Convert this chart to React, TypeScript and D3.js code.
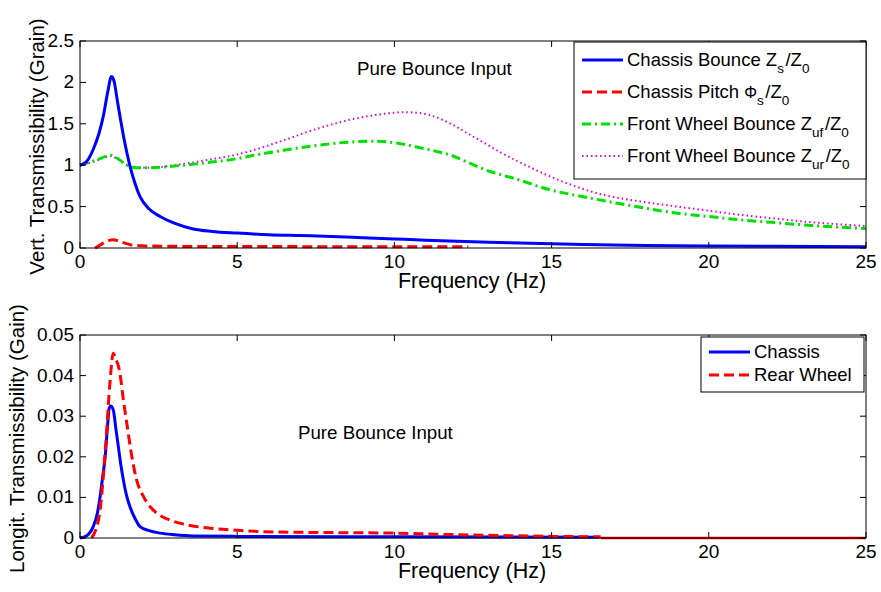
import React from "react";
import * as d3 from "d3";

// ---------- data ----------
const xTicks = [0, 5, 10, 15, 20, 25];
const topYTicks = [0, 0.5, 1, 1.5, 2, 2.5];
const topYTickLabels = ["0", "0.5", "1", "1.5", "2", "2.5"];
const botYTicks = [0, 0.01, 0.02, 0.03, 0.04, 0.05];
const botYTickLabels = ["0", "0.01", "0.02", "0.03", "0.04", "0.05"];

// Top: Chassis Bounce Zs/Z0
const chassisBounceF = [0, 0.2, 0.42, 0.6, 0.74, 0.88, 1.0, 1.08, 1.2, 1.4, 1.59, 1.75, 1.91, 2.2, 2.55, 3, 3.6, 4.2, 5, 6, 7, 8, 9, 10, 11, 12, 13, 14, 15, 16, 17, 18, 20, 22, 25];
const chassisBounceV = [1.0, 1.04, 1.19, 1.38, 1.59, 1.88, 2.07, 2.02, 1.75, 1.32, 0.99, 0.78, 0.62, 0.47, 0.38, 0.3, 0.23, 0.2, 0.18, 0.16, 0.15, 0.14, 0.125, 0.11, 0.095, 0.082, 0.07, 0.06, 0.05, 0.042, 0.035, 0.03, 0.024, 0.02, 0.016];

// Top: Chassis Pitch Phi_s/Z0
const chassisPitchF = [0.48, 0.7, 0.9, 1.06, 1.25, 1.6, 2.1, 3, 5, 8, 10, 12.35];
const chassisPitchV = [0, 0.05, 0.09, 0.1, 0.08, 0.04, 0.025, 0.02, 0.018, 0.016, 0.015, 0.014];

// Top: Front Wheel Bounce Zuf/Z0
const frontUfF = [0, 0.5, 0.85, 1.0, 1.2, 1.5, 1.8, 2.2, 3, 4, 5, 5.41, 6.47, 7.54, 8.6, 9.2, 9.66, 10.2, 10.7, 11.3, 11.8, 12.3, 12.85, 13.9, 14.97, 16, 17.1, 18, 19, 20, 21, 22, 23, 24, 25];
const frontUfV = [1.0, 1.06, 1.11, 1.12, 1.08, 1.0, 0.97, 0.97, 0.99, 1.03, 1.08, 1.11, 1.18, 1.24, 1.28, 1.29, 1.285, 1.26, 1.22, 1.17, 1.12, 1.04, 0.95, 0.83, 0.7, 0.62, 0.54, 0.48, 0.42, 0.38, 0.34, 0.31, 0.28, 0.255, 0.235];

// Top: Front Wheel Bounce Zur/Z0
const frontUrF = [0, 0.5, 0.85, 1.0, 1.2, 1.5, 1.8, 2.2, 3, 4, 5, 5.41, 6.47, 7.54, 8.6, 9.66, 10.3, 10.8, 11.25, 11.8, 12.3, 12.85, 13.4, 14.4, 15.5, 16.56, 18.05, 19, 20, 21, 22, 23, 24, 25];
const frontUrV = [1.0, 1.05, 1.1, 1.11, 1.07, 1.0, 0.97, 0.97, 1.0, 1.06, 1.13, 1.17, 1.3, 1.44, 1.55, 1.62, 1.64, 1.63, 1.59, 1.5, 1.39, 1.27, 1.15, 0.96, 0.78, 0.65, 0.55, 0.5, 0.45, 0.4, 0.36, 0.32, 0.29, 0.265];

// Bottom: Chassis
const longChassisF = [0, 0.2, 0.42, 0.55, 0.64, 0.72, 0.8, 0.87, 0.93, 0.98, 1.06, 1.14, 1.22, 1.3, 1.38, 1.48, 1.59, 1.75, 1.91, 2.2, 2.55, 3, 3.6, 5, 10, 16.5];
const longChassisV = [0, 0.0005, 0.0028, 0.006, 0.0102, 0.015, 0.02, 0.027, 0.032, 0.0325, 0.0315, 0.027, 0.0225, 0.018, 0.0143, 0.0105, 0.0077, 0.0048, 0.0028, 0.0018, 0.0012, 0.0008, 0.0005, 0.0004, 0.0003, 0.0002];

// Bottom: Rear Wheel
const longRearF = [0.37, 0.5, 0.64, 0.75, 0.85, 0.95, 1.06, 1.12, 1.27, 1.38, 1.49, 1.65, 1.8, 2.0, 2.23, 2.5, 2.87, 3.5, 4.14, 5, 5.73, 7, 8.5, 10, 11.5, 13.4, 15, 16.56];
const longRearV = [0, 0.002, 0.0069, 0.016, 0.0266, 0.038, 0.0455, 0.0445, 0.0406, 0.034, 0.0282, 0.02, 0.0143, 0.0105, 0.0077, 0.0058, 0.0044, 0.0031, 0.0024, 0.0019, 0.0016, 0.0014, 0.0013, 0.0012, 0.0009, 0.0006, 0.0004, 0.0003];
const longRearTailF = [16.56, 25];
const longRearTailV = [0, 0];

// ---------- layout ----------
const W = 881;
const H = 592;
const X0 = 80;
const X1 = 866;
const FONT = "'Liberation Sans', Arial, Helvetica, sans-serif";

const BLUE = "#0000ff";
const RED = "#ff0000";
const GREEN = "#00e000";
const MAGENTA = "#e000e0";

type Series = { f: number[]; v: number[]; color: string; width: number; dash?: string };

function Axes(props: {
  top: number;
  bottom: number;
  yMax: number;
  yTicks: number[];
  yTickLabels: string[];
  series: Series[];
  yLabel: string;
  yLabelX: number;
  title: string;
  titleX: number;
  titleY: number;
  children?: React.ReactNode;
}) {
  const { top, bottom, yMax, yTicks, yTickLabels, series, yLabel, yLabelX, title, titleX, titleY } = props;
  const x = d3.scaleLinear().domain([0, 25]).range([X0, X1]);
  const y = d3.scaleLinear().domain([0, yMax]).range([bottom, top]);
  const TL = 6;
  return (
    <g>
      <rect x={X0} y={top} width={X1 - X0} height={bottom - top} fill="white" />
      {series.map((s, i) => {
        const pts: [number, number][] = s.f.map((f, j) => [f, s.v[j]]);
        const line = d3
          .line<[number, number]>()
          .x((d) => x(d[0]))
          .y((d) => y(d[1]))
          .curve(d3.curveMonotoneX);
        return (
          <path
            key={i}
            d={line(pts) || ""}
            fill="none"
            stroke={s.color}
            strokeWidth={s.width}
            strokeDasharray={s.dash}
          />
        );
      })}
      <rect x={X0} y={top} width={X1 - X0} height={bottom - top} fill="none" stroke="black" strokeWidth={1} />
      {xTicks.map((t) => (
        <g key={"x" + t}>
          <line x1={x(t)} x2={x(t)} y1={bottom} y2={bottom - TL} stroke="black" />
          <line x1={x(t)} x2={x(t)} y1={top} y2={top + TL} stroke="black" />
          <text x={x(t)} y={bottom + 20} textAnchor="middle" fontSize={19} fontFamily={FONT}>
            {t}
          </text>
        </g>
      ))}
      {yTicks.map((t, i) => (
        <g key={"y" + i}>
          <line x1={X0} x2={X0 + TL} y1={y(t)} y2={y(t)} stroke="black" />
          <line x1={X1} x2={X1 - TL} y1={y(t)} y2={y(t)} stroke="black" />
          <text x={X0 - 6} y={y(t) + 6} textAnchor="end" fontSize={19} fontFamily={FONT}>
            {yTickLabels[i]}
          </text>
        </g>
      ))}
      <text x={(X0 + X1) / 2 - 1} y={bottom + 40} textAnchor="middle" fontSize={21.5} fontFamily={FONT}>
        Frequency (Hz)
      </text>
      <text
        transform={`translate(${yLabelX},${(top + bottom) / 2 + 2}) rotate(-90)`}
        textAnchor="middle"
        fontSize={20.5}
        fontFamily={FONT}
      >
        {yLabel}
      </text>
      <text x={titleX} y={titleY} fontSize={18.7} fontFamily={FONT}>
        {title}
      </text>
      {props.children}
    </g>
  );
}

function LegendRow(props: { x: number; y: number; color: string; width: number; dash?: string; children: React.ReactNode }) {
  const { x, y, color, width, dash } = props;
  return (
    <g>
      <line x1={x} x2={x + 41} y1={y} y2={y} stroke={color} strokeWidth={width} strokeDasharray={dash} />
      <text x={x + 45} y={y + 6} fontSize={18.5} fontFamily={FONT}>
        {props.children}
      </text>
    </g>
  );
}

const Sub = (p: { t: string }) => (
  <>
    <tspan dy={7} fontSize={13.5}>
      {p.t}
    </tspan>
    <tspan dy={-7}>{"\u200A"}</tspan>
  </>
);

export default function App() {
  const topTop = 41;
  const topBottom = 248;
  const botTop = 335;
  const botBottom = 538;

  const topSeries: Series[] = [
    { f: frontUrF, v: frontUrV, color: MAGENTA, width: 2, dash: "1.5,3" },
    { f: frontUfF, v: frontUfV, color: GREEN, width: 3, dash: "9,4,2,4" },
    { f: chassisPitchF, v: chassisPitchV, color: RED, width: 3, dash: "10,5" },
    { f: chassisBounceF, v: chassisBounceV, color: BLUE, width: 3 },
  ];
  const botSeries: Series[] = [
    { f: longRearTailF, v: longRearTailV, color: RED, width: 2.5 },
    { f: longChassisF, v: longChassisV, color: BLUE, width: 3 },
    { f: longRearF, v: longRearV, color: RED, width: 3, dash: "10,5" },
  ];

  return (
    <svg width={W} height={H} style={{ position: "absolute", left: 0, top: 0, background: "white" }}>
      <rect width={W} height={H} fill="white" />
      <Axes
        top={topTop}
        bottom={topBottom}
        yMax={2.5}
        yTicks={topYTicks}
        yTickLabels={topYTickLabels}
        series={topSeries}
        yLabel="Vert. Transmissibility (Grain)"
        yLabelX={44}
        title="Pure Bounce Input"
        titleX={357}
        titleY={75}
      >
        <g>
          <rect x={574} y={42} width={292} height={137} fill="white" stroke="black" strokeWidth={1} />
          <LegendRow x={582} y={60} color={BLUE} width={3}>
            Chassis Bounce Z<Sub t="s" />/Z<Sub t="0" />
          </LegendRow>
          <LegendRow x={582} y={92} color={RED} width={3} dash="10,5">
            Chassis Pitch <tspan fontSize={16}>Φ</tspan>
            <Sub t="s" />/Z<Sub t="0" />
          </LegendRow>
          <LegendRow x={582} y={124} color={GREEN} width={3} dash="9,4,2,4">
            Front Wheel Bounce Z<Sub t="uf" />/Z<Sub t="0" />
          </LegendRow>
          <LegendRow x={582} y={156} color={MAGENTA} width={2} dash="1.5,3">
            Front Wheel Bounce Z<Sub t="ur" />/Z<Sub t="0" />
          </LegendRow>
        </g>
      </Axes>
      <Axes
        top={botTop}
        bottom={botBottom}
        yMax={0.05}
        yTicks={botYTicks}
        yTickLabels={botYTickLabels}
        series={botSeries}
        yLabel="Longit. Transmissibility (Gain)"
        yLabelX={24}
        title="Pure Bounce Input"
        titleX={298}
        titleY={439}
      >
        <g>
          <rect x={701} y={337} width={163} height={55} fill="white" stroke="black" strokeWidth={1} />
          <LegendRow x={709} y={352} color={BLUE} width={3}>
            Chassis
          </LegendRow>
          <LegendRow x={709} y={375} color={RED} width={3} dash="10,5">
            Rear Wheel
          </LegendRow>
        </g>
      </Axes>
    </svg>
  );
}
